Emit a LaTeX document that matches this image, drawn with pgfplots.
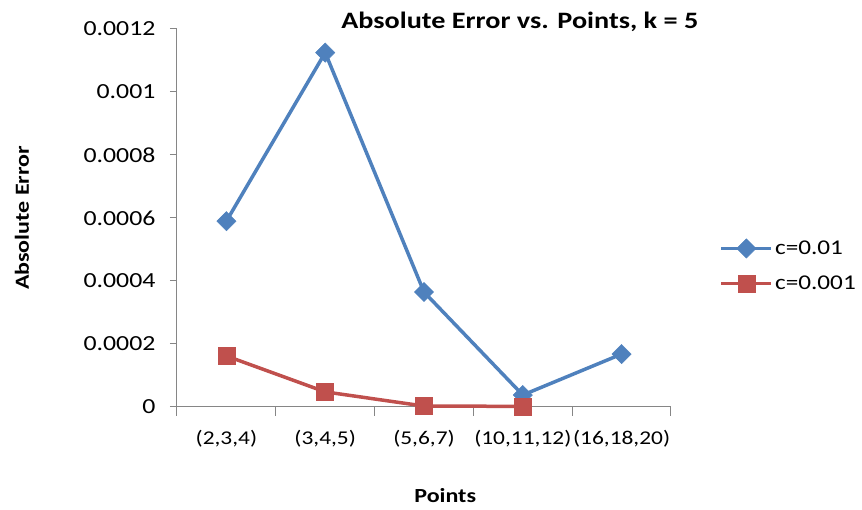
\documentclass[border=0pt]{standalone}
\usepackage{pgfplots}
\pgfplotsset{compat=1.18}
\usepackage{fontspec}
\setmainfont{Carlito}[FakeStretch=1.2]

\definecolor{xlblue}{HTML}{4F81BD}
\definecolor{xlred}{HTML}{C0504D}
\definecolor{xlgrey}{HTML}{868686}

\begin{document}
\begin{tikzpicture}
\begin{axis}[
    at={(0pt,0pt)}, anchor=south west,
    scale only axis,
    width=494pt, height=378pt,
    axis lines=left,
    axis line style={-, xlgrey, line width=1pt},
    xmin=-0.5, xmax=4.5,
    ymin=0, ymax=0.0012,
    xtick={0,1,2,3,4},
    xticklabels={(2,3,4),(3,4,5),(5,6,7),(10,11,12),(16,18,20)},
    minor xtick={-0.5,0.5,1.5,2.5,3.5,4.5},
    major x tick style={draw=none},
    minor x tick style={xlgrey, line width=1pt},
    minor tick length=9pt,
    ytick={0,0.0002,0.0004,0.0006,0.0008,0.001,0.0012},
    yticklabels={0,0.0002,0.0004,0.0006,0.0008,0.001,0.0012},
    y tick style={xlgrey, line width=1pt},
    major tick length=7pt,
    tick align=outside,
    scaled y ticks=false,
    xtick pos=bottom, ytick pos=left,
    yticklabel style={font=\fontsize{21.5}{25}\selectfont, xshift=-11pt},
    xticklabel style={font=\fontsize{19.5}{23}\selectfont, yshift=-13pt},
    xlabel={\bfseries Points},
    ylabel={\bfseries Absolute Error},
    label style={font=\fontsize{20}{24}\selectfont},
    xlabel style={at={(axis description cs:0.543,-0.233)}, anchor=center},
    ylabel style={at={(axis description cs:-0.314,0.5)}, anchor=center},
    title={\bfseries Absolute Error vs. Points, k = 5},
    title style={at={(axis description cs:0.694,1.0)}, anchor=center, yshift=1pt,
        font=\fontsize{23.5}{28}\selectfont},
    clip=false,
    legend style={at={(axis description cs:1.098,0.373)}, anchor=west, draw=none,
        fill=none, font=\fontsize{21}{25}\selectfont, row sep=16pt,
        inner sep=0pt},
    legend cell align=left,
    legend image code/.code={
        \draw[#1, mark repeat=2, mark phase=2]
            plot coordinates {(0pt,0pt) (25pt,0pt) (50pt,0pt)};
    },
]
\addplot[xlblue, line width=3.5pt, mark=square*,
    mark options={solid, fill=xlblue, line width=0.5pt, rotate=45}, mark size=6.8pt]
    coordinates {(0,0.00059) (1,0.001125) (2,0.000365) (3,0.000038) (4,0.000168)};
\addlegendentry{c=0.01}
\addplot[xlred, line width=3.5pt, mark=square*,
    mark options={solid, fill=xlred, line width=0.5pt}, mark size=8.5pt]
    coordinates {(0,0.000162) (1,0.000048) (2,0.000003) (3,0.000002)};
\addlegendentry{c=0.001}
\end{axis}
\pgfresetboundingbox
\path[use as bounding box] (-177pt,-103pt) rectangle (685pt,407pt);
\end{tikzpicture}
\end{document}
